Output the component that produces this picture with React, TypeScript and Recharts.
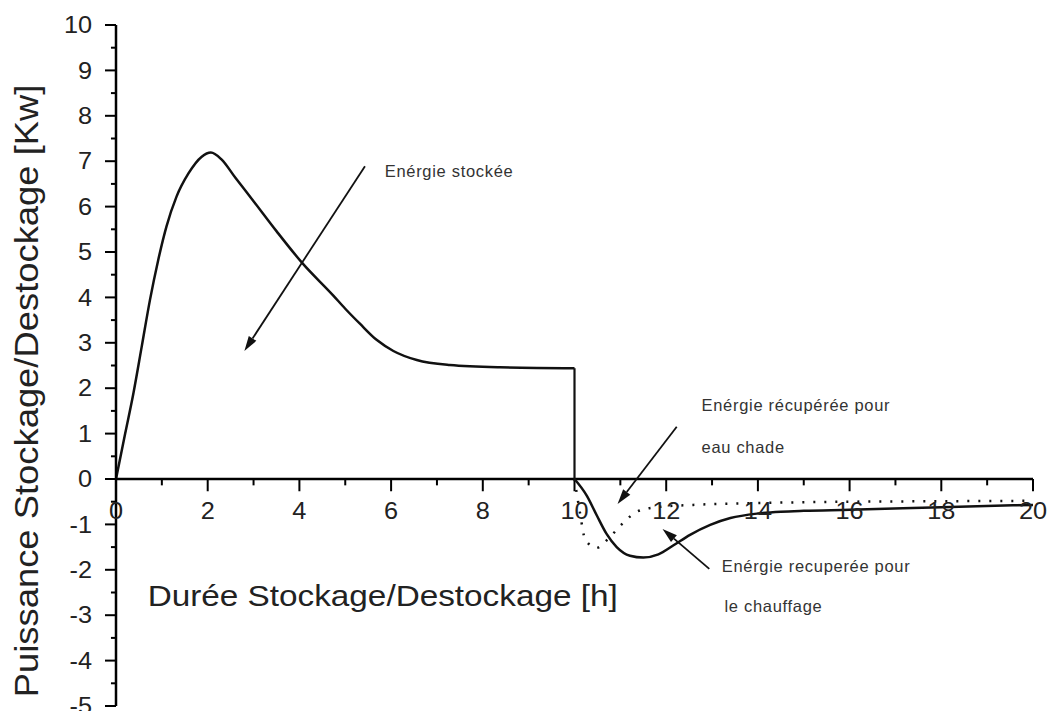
import React from 'react';
import { LineChart, Line, XAxis, YAxis, ReferenceLine, ReferenceDot } from 'recharts';

// storage phase (0-10 h)
const storedX = [0, 0.2, 0.38, 0.56, 0.74, 0.92, 1.1, 1.32, 1.58, 1.87, 2.07, 2.3, 2.6, 3.0, 3.5, 4.06, 4.74, 5.0, 5.32, 5.69, 6.05, 6.56, 7.28, 8.37, 10];
const storedY = [0, 1.0, 1.89, 2.91, 3.94, 4.82, 5.56, 6.22, 6.73, 7.1, 7.19, 7.04, 6.64, 6.12, 5.46, 4.76, 4.04, 3.75, 3.42, 3.06, 2.82, 2.62, 2.51, 2.46, 2.44];

// switch from storage to recovery at 10 h
const dropX = [10, 10];
const dropY = [2.44, 0];

// recovered for heating (solid)
const heatX = [10, 10.27, 10.49, 10.7, 10.92, 11.21, 11.5, 11.83, 12.16, 12.52, 12.96, 13.4, 14, 14.5, 15, 16, 18, 20];
const heatY = [0, -0.37, -0.81, -1.21, -1.5, -1.69, -1.73, -1.66, -1.46, -1.23, -1.01, -0.86, -0.76, -0.72, -0.7, -0.68, -0.62, -0.57];

// recovered for hot water (dotted)
const waterX = [10, 10.12, 10.23, 10.47, 10.75, 11.04, 11.36, 11.8, 12.59, 14, 16, 18, 20];
const waterY = [0, -0.75, -1.32, -1.52, -1.3, -0.99, -0.72, -0.62, -0.57, -0.53, -0.5, -0.49, -0.48];

const xMajorTicks = [0, 2, 4, 6, 8, 10, 12, 14, 16, 18, 20];
const xMinorTicks = [1, 3, 5, 7, 9, 11, 13, 15, 17, 19];
const yTicks = [-5, -4, -3, -2, -1, 0, 1, 2, 3, 4, 5, 6, 7, 8, 9, 10];
const yMinorTicks = [-4.5, -3.5, -2.5, -1.5, -0.5, 0.5, 1.5, 2.5, 3.5, 4.5, 5.5, 6.5, 7.5, 8.5, 9.5];

const noteTexts = ['Enérgie stockée', 'Enérgie récupérée pour', 'eau chade', 'Enérgie recuperée pour', 'le chauffage'];
const noteX = [5.86, 12.77, 12.77, 13.21, 13.27];
const noteY = [6.78, 1.63, 0.7, -1.92, -2.8];

const arrowFromX = [5.43, 12.23, 12.94];
const arrowFromY = [6.89, 1.15, -1.98];
const arrowToX = [2.8, 10.94, 11.92];
const arrowToY = [2.82, -0.55, -1.1];

const xTitle = 'Durée Stockage/Destockage [h]';
const yTitle = 'Puissance Stockage/Destockage [Kw]';

const FONT = '"Liberation Sans", Arial, sans-serif';

const toPoints = (xs: number[], ys: number[]) => xs.map((x, i) => ({ x, y: ys[i] }));

function YTick(props: any) {
  const { x, y, payload } = props;
  return (
    <text
      transform={`translate(${x},${y}) scale(1.1,1)`}
      textAnchor="end"
      dy="0.36em"
      fontSize={23}
      fontFamily={FONT}
      fill="#222"
    >
      {payload.value}
    </text>
  );
}

function Arrow(props: any) {
  const { x1, y1, x2, y2 } = props;
  const ang = Math.atan2(y2 - y1, x2 - x1);
  const len = 15;
  const half = 4.5;
  const bx = x2 - len * Math.cos(ang);
  const by = y2 - len * Math.sin(ang);
  const px = -Math.sin(ang) * half;
  const py = Math.cos(ang) * half;
  return (
    <g>
      <line x1={x1} y1={y1} x2={bx} y2={by} stroke="#111" strokeWidth={1.8} />
      <polygon points={`${x2},${y2} ${bx + px},${by + py} ${bx - px},${by - py}`} fill="#111" />
    </g>
  );
}

export default function App() {
  return (
    <div style={{ position: 'absolute', left: 0, top: 0, background: '#fff' }}>
      <LineChart width={1048} height={711} margin={{ top: 25, right: 15, bottom: 5, left: 56 }}>
        <XAxis type="number" dataKey="x" domain={[0, 20]} hide allowDataOverflow />
        <YAxis
          type="number"
          domain={[-5, 10]}
          ticks={yTicks}
          interval={0}
          width={60}
          tickSize={11}
          tickMargin={13}
          axisLine={{ stroke: '#000', strokeWidth: 2.5 }}
          tickLine={{ stroke: '#000', strokeWidth: 2 }}
          tick={<YTick />}
        />

        {/* x axis drawn through y = 0 */}
        <ReferenceLine y={0} stroke="#000" strokeWidth={2.5} />
        {xMajorTicks.map((t) => (
          <ReferenceLine key={`xM${t}`} segment={[{ x: t, y: 0 }, { x: t, y: -0.27 }]} stroke="#000" strokeWidth={2} />
        ))}
        {xMinorTicks.map((t) => (
          <ReferenceLine key={`xm${t}`} segment={[{ x: t, y: 0 }, { x: t, y: -0.14 }]} stroke="#000" strokeWidth={2} />
        ))}
        {yMinorTicks.map((t) => (
          <ReferenceLine
            key={`ym${t}`}
            segment={[{ x: -0.11, y: t }, { x: 0, y: t }]}
            stroke="#000"
            strokeWidth={2}
            ifOverflow="visible"
          />
        ))}
        {xMajorTicks.map((t) => (
          <ReferenceDot
            key={`xl${t}`}
            x={t}
            y={0}
            r={0}
            shape={(p: any) => (
              <text
                transform={`translate(${p.cx},${p.cy + 40}) scale(1.1,1)`}
                textAnchor="middle"
                fontSize={23}
                fontFamily={FONT}
                fill="#222"
              >
                {t}
              </text>
            )}
          />
        ))}

        <Line data={toPoints(storedX, storedY)} dataKey="y" type="monotone" stroke="#111" strokeWidth={2.5} dot={false} isAnimationActive={false} />
        <Line data={toPoints(dropX, dropY)} dataKey="y" type="linear" stroke="#111" strokeWidth={2.2} dot={false} isAnimationActive={false} />
        <Line data={toPoints(heatX, heatY)} dataKey="y" type="monotone" stroke="#111" strokeWidth={2.5} dot={false} isAnimationActive={false} />
        <Line
          data={toPoints(waterX, waterY)}
          dataKey="y"
          type="monotone"
          stroke="#111"
          strokeWidth={2.5}
          strokeDasharray="2 9"
          dot={false}
          isAnimationActive={false}
        />

        {arrowFromX.map((x, i) => (
          <ReferenceLine
            key={`ar${i}`}
            segment={[{ x, y: arrowFromY[i] }, { x: arrowToX[i], y: arrowToY[i] }]}
            shape={(p: any) => <Arrow {...p} />}
          />
        ))}
        {noteTexts.map((s, i) => (
          <ReferenceDot
            key={`n${i}`}
            x={noteX[i]}
            y={noteY[i]}
            r={0}
            shape={(p: any) => (
              <text x={p.cx} y={p.cy} dy="0.36em" fontSize={16.5} letterSpacing={0.7} fontFamily={FONT} fill="#333">
                {s}
              </text>
            )}
          />
        ))}

        {/* axis titles */}
        <ReferenceDot
          x={0.69}
          y={-2.8}
          r={0}
          shape={(p: any) => (
            <text transform={`translate(${p.cx},${p.cy}) scale(1.11,1)`} fontSize={30} fontFamily={FONT} fill="#222">
              {xTitle}
            </text>
          )}
        />
        <ReferenceDot
          x={-1.71}
          y={1.94}
          r={0}
          ifOverflow="visible"
          shape={(p: any) => (
            <text
              transform={`translate(${p.cx},${p.cy}) rotate(-90) scale(1.07,1)`}
              textAnchor="middle"
              fontSize={34}
              fontFamily={FONT}
              fill="#222"
            >
              {yTitle}
            </text>
          )}
        />
      </LineChart>
    </div>
  );
}
